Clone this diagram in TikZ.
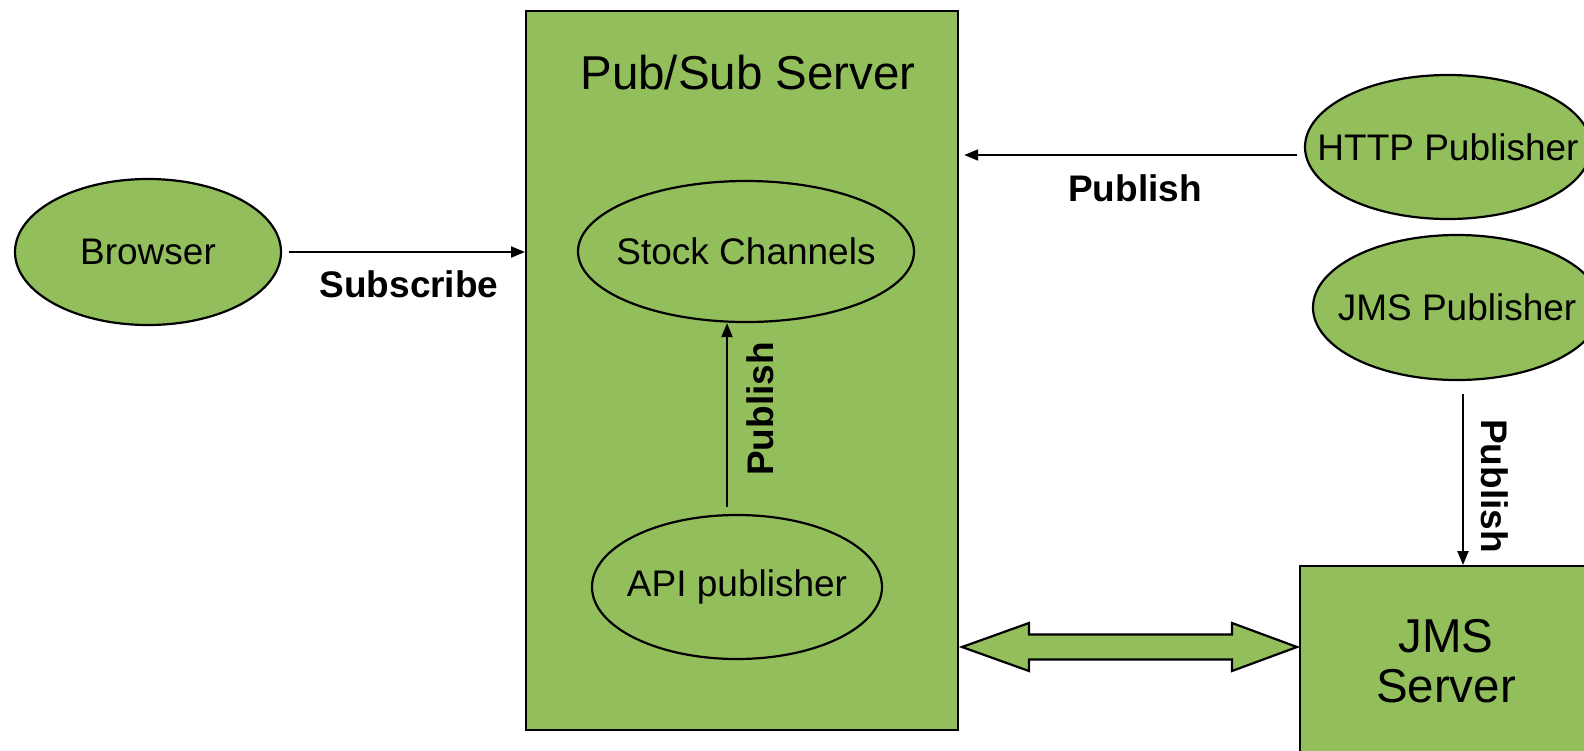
\documentclass[tikz,border=0pt]{standalone}
\usepackage{fontspec}
\setmainfont{Liberation Sans}
\usetikzlibrary{shapes.geometric,arrows.meta}
\definecolor{leaf}{RGB}{147,190,92}
\begin{document}
\begin{tikzpicture}[x=1pt,y=-1pt,
  box/.style={draw, fill=leaf, line width=2.2pt, inner sep=0pt, anchor=north west},
  ell/.style={ellipse, draw, fill=leaf, line width=2.2pt, inner sep=0pt},
  txt/.style={font=\fontsize{37}{42}\selectfont},
  lbl/.style={font=\fontsize{37}{42}\selectfont\bfseries},
  big/.style={font=\fontsize{47.5}{50}\selectfont},
  conn/.style={line width=2pt, -{Triangle[length=14pt,width=11pt]}}]
\useasboundingbox (0,0) rectangle (1584,750);
\clip (0,0) rectangle (1584,750);

% servers
\node[box, minimum width=432pt, minimum height=719pt] (pubsub) at (525,10) {};
\node[big] (pubsubtitle) at (748,73) {Pub/Sub Server};
\node[box, minimum width=340pt, minimum height=240pt] (jms) at (1299,565) {};
\node[big, align=center] (jmstitle) at (1446,661) {JMS\\Server};

% clients and channels
\node[ell, minimum width=266pt, minimum height=146pt] (browser) at (148,252) {};
\node[txt] (browsertext) at (browser) {Browser};
\node[ell, minimum width=336pt, minimum height=141pt] (stock) at (746,251.5) {};
\node[txt] (stocktext) at (stock) {Stock Channels};
\node[ell, minimum width=290pt, minimum height=144pt] (api) at (737,587) {};
\node[txt] (apitext) at (api) {API publisher};
\node[ell, minimum width=286pt, minimum height=144pt] (http) at (1448,147) {};
\node[txt] (httptext) at (http) {HTTP Publisher};
\node[ell, minimum width=288pt, minimum height=145pt] (jmspub) at (1457,307.5) {};
\node[txt] (jmspubtext) at (jmspub) {JMS Publisher};

% message flow
\draw[conn, shorten <=7pt] (browser.east) -- (pubsub.west |- browser.east);
\node[lbl] (sublbl) at (409,284) {Subscribe};

\draw[conn, shorten <=7pt, shorten >=5pt] (http.west |- 0,155) -- (pubsub.east |- 0,155);
\node[lbl] (httplbl) at (1135,188) {Publish};

\draw[conn, shorten <=7pt] (api.north -| 727,0) -- (stock.south -| 727,0);
\node[lbl, rotate=90] (apilbl) at (760,409) {Publish};

\draw[conn, shorten <=13pt] (jmspub.south -| 1463,0) -- (jms.north -| 1463,0);
\node[lbl, rotate=-90] (jmslbl) at (1495,486) {Publish};

% bridge between the two servers
\draw[line width=2.2pt, fill=leaf] (962,647) -- (1029,623) -- (1029,634.5) -- (1232,634.5)
  -- (1232,623) -- (1297,647) -- (1232,671) -- (1232,659.5) -- (1029,659.5) -- (1029,671) -- cycle;
\end{tikzpicture}
\end{document}
